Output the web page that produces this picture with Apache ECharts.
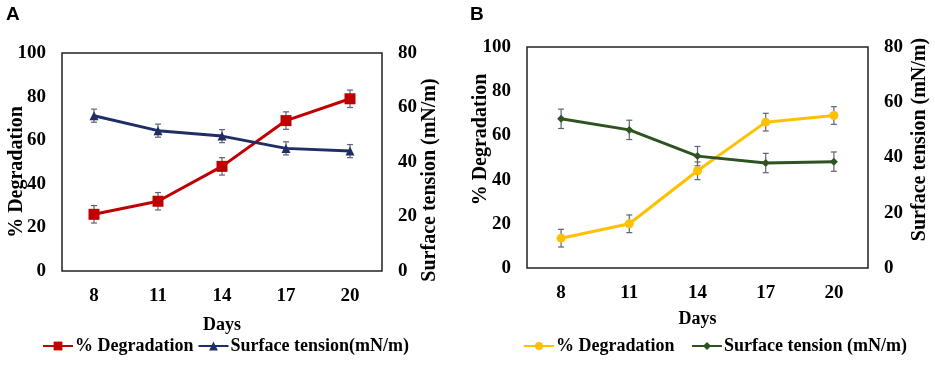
<!DOCTYPE html>
<html>
<head>
<meta charset="utf-8">
<script src="https://cdn.jsdelivr.net/npm/echarts@6/dist/echarts.min.js"></script>
<style>
  html, body { margin: 0; padding: 0; background: #fff; }
  #chart { width: 935px; height: 368px; }
</style>
</head>
<body>
<div id="chart"></div>
<script>
// days on the x axis
const days = ["8", "11", "14", "17", "20"];

// panel A
const degradationA = [26, 32, 48, 69, 79];
const degradationErrA = [4, 4, 4, 4, 4];
const tensionA = [57, 51.5, 49.5, 45, 44];
const tensionErrA = [2.4, 2.4, 2.4, 2.4, 2.4];

// panel B
const degradationB = [13.5, 20, 44, 66, 69];
const degradationErrB = [4, 4, 4, 4, 4];
const tensionB = [54, 50, 40.5, 38, 38.5];
const tensionErrB = [3.5, 3.5, 3.5, 3.5, 3.5];

// tick values
const leftTicks = { min: 0, max: 100, interval: 20 };
const rightTicks = { min: 0, max: 80, interval: 20 };

const serif = "Liberation Serif";
const textStyle = { fontFamily: serif, fontWeight: "bold", color: "#000", fontSize: 19 };

const chart = echarts.init(document.getElementById("chart"), null, { renderer: "canvas" });

const errData = (vals, errs) => vals.map((v, i) => [i, v - errs[i], v + errs[i]]);

const errorSeries = (gridIdx, yIdx, vals, errs) => ({
  type: "custom",
  xAxisIndex: gridIdx,
  yAxisIndex: yIdx,
  z: 1,
  silent: true,
  data: errData(vals, errs),
  renderItem: (params, api) => {
    const x = api.value(0);
    const lo = api.coord([x, api.value(1)]);
    const hi = api.coord([x, api.value(2)]);
    const w = 3;
    const style = { stroke: "#5f6473", lineWidth: 1.2 };
    return {
      type: "group",
      children: [
        { type: "line", shape: { x1: lo[0], y1: lo[1], x2: hi[0], y2: hi[1] }, style },
        { type: "line", shape: { x1: lo[0] - w, y1: lo[1], x2: lo[0] + w, y2: lo[1] }, style },
        { type: "line", shape: { x1: hi[0] - w, y1: hi[1], x2: hi[0] + w, y2: hi[1] }, style },
      ],
    };
  },
});

const xAxis = (gridIndex, nameGap) => ({
  type: "category",
  gridIndex,
  data: days,
  boundaryGap: true,
  name: "Days",
  nameLocation: "middle",
  nameGap,
  nameMoveOverlap: false,
  nameTextStyle: { ...textStyle, fontSize: 18 },
  axisLine: { show: false },
  axisTick: { show: false },
  axisLabel: { ...textStyle, margin: 16 },
  splitLine: { show: false },
});

const yAxis = (gridIndex, position, ticks, name, nameGap, padding) => ({
  type: "value",
  gridIndex,
  position,
  ...ticks,
  name,
  nameLocation: "middle",
  nameRotate: 90,
  nameGap,
  nameMoveOverlap: false,
  nameTextStyle: { ...textStyle, fontSize: 20, padding },
  axisLine: { show: false },
  axisTick: { show: false },
  axisLabel: { ...textStyle, margin: 16 },
  splitLine: { show: false },
});

const lineSeries = (name, gridIdx, yIdx, data, color, symbol, size) => ({
  name,
  type: "line",
  xAxisIndex: gridIdx,
  yAxisIndex: yIdx,
  data,
  z: 3,
  symbol,
  symbolSize: size,
  lineStyle: { color, width: 3 },
  itemStyle: { color },
});

const legendText = { ...textStyle, fontSize: 18, padding: [0, 0, 0, -3] };

const option = {
  animation: false,
  backgroundColor: "#fff",
  graphic: [
    { type: "text", left: 6, top: 5, style: { text: "A", font: "bold 19px 'Liberation Sans'", fill: "#000" } },
    { type: "text", left: 470, top: 5, style: { text: "B", font: "bold 19px 'Liberation Sans'", fill: "#000" } },
  ],
  grid: [
    { left: 62, top: 53, width: 320, height: 218, show: true, borderColor: "#222", borderWidth: 1.5, outerBoundsMode: "none" },
    { left: 527, top: 47, width: 341, height: 221, show: true, borderColor: "#222", borderWidth: 1.5, outerBoundsMode: "none" },
  ],
  legend: [
    {
      data: ["% Degradation", "Surface tension(mN/m)"],
      left: 37,
      top: 332,
      itemWidth: 30,
      itemHeight: 11,
      itemGap: 4,
      textStyle: legendText,
    },
    {
      data: ["% Degradation ", "Surface tension (mN/m)"],
      left: 518,
      top: 332,
      itemWidth: 30,
      itemHeight: 10,
      itemGap: 12,
      textStyle: legendText,
    },
  ],
  xAxis: [xAxis(0, 45), xAxis(1, 42)],
  yAxis: [
    yAxis(0, "left", leftTicks, "% Degradation", 35, [0, 20, 0, 0]),
    yAxis(0, "right", rightTicks, "Surface tension (mN/m)", 38, [0, 36, 0, 0]),
    yAxis(1, "left", leftTicks, "% Degradation", 36, [0, 0, 0, 36]),
    yAxis(1, "right", rightTicks, "Surface tension (mN/m)", 42, [0, 0, 0, 36]),
  ],
  series: [
    errorSeries(0, 0, degradationA, degradationErrA),
    errorSeries(0, 1, tensionA, tensionErrA),
    lineSeries("% Degradation", 0, 0, degradationA, "#c00000", "rect", 11),
    lineSeries("Surface tension(mN/m)", 0, 1, tensionA, "#1f2f66", "triangle", 9),
    errorSeries(1, 2, degradationB, degradationErrB),
    errorSeries(1, 3, tensionB, tensionErrB),
    lineSeries("% Degradation ", 1, 2, degradationB, "#ffc000", "circle", 9),
    lineSeries("Surface tension (mN/m)", 1, 3, tensionB, "#2f5320", "diamond", 8),
  ],
};

chart.setOption(option);
</script>
</body>
</html>
